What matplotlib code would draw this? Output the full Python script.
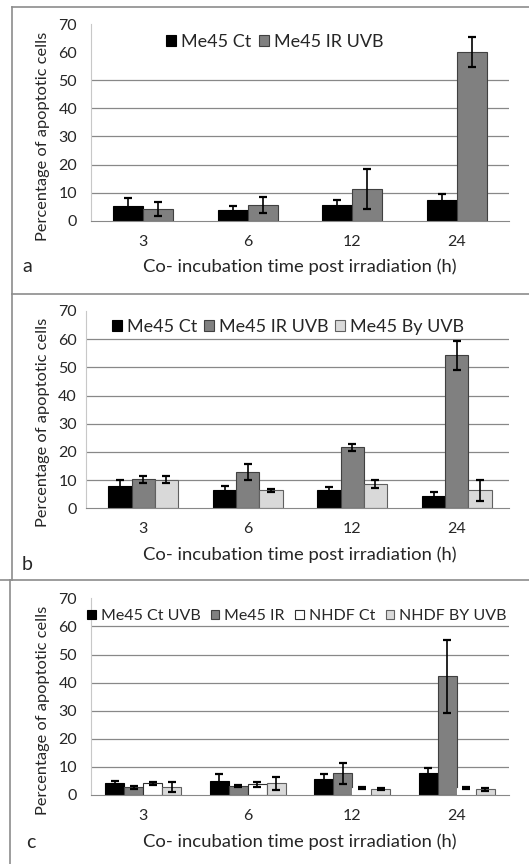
import numpy as np
import matplotlib
matplotlib.use("Agg")
from matplotlib import pyplot as plt
from matplotlib.lines import Line2D

plt.rcParams['font.family'] = ['Lato', 'DejaVu Sans']

times = ["3", "6", "12", "24"]

# panel a
a_ct = [5.3, 3.8, 5.6, 7.4]
a_ct_err = [2.7, 1.5, 1.7, 2.1]
a_ir = [4.2, 5.6, 11.3, 60.0]
a_ir_err = [2.6, 2.9, 7.0, 5.4]

# panel b
b_ct = [7.9, 6.4, 6.4, 4.3]
b_ct_err = [2.3, 1.6, 1.1, 1.6]
b_ir = [10.3, 12.9, 21.6, 54.3]
b_ir_err = [1.3, 2.8, 1.3, 5.2]
b_by = [10.2, 6.4, 8.5, 6.4]
b_by_err = [1.3, 0.6, 1.4, 3.7]

# panel c
c_ct = [4.2, 4.9, 5.7, 7.8]
c_ct_err = [0.9, 2.5, 1.7, 1.7]
c_ir = [2.8, 3.2, 7.7, 42.3]
c_ir_err = [0.5, 0.3, 3.8, 13.0]
c_nct = [4.2, 3.8, 2.4, 2.4]
c_nct_err = [0.5, 1.0, 0.3, 0.3]
c_nby = [2.8, 4.2, 2.1, 2.1]
c_nby_err = [1.7, 2.3, 0.3, 0.5]

W, H = 529, 864
fig = plt.figure(figsize=(W / 100, H / 100), dpi=100)

txt = '#262626'
grid_c = '#888888'


def px(x0, y0, x1, y1):
    # pixel box (top-left origin) -> figure fraction rect
    return [x0 / W, 1 - y1 / H, (x1 - x0) / W, (y1 - y0) / H]


def panel(rect, series, labels, colors, edges, grid_levels, xlim, ypad, leg_xy, colsp, legsize=13):
    ax = fig.add_axes(rect)
    n = len(series)
    x = np.arange(len(times))
    w = 1 / (n + 1.5)
    for i, (vals, errs) in enumerate(series):
        pos = x + (i - (n - 1) / 2) * w
        ax.bar(pos, vals, w, color=colors[i], edgecolor=edges[i], linewidth=0.8,
               label=labels[i], zorder=3)
        ax.errorbar(pos, vals, yerr=errs, fmt='none', ecolor='black', elinewidth=1.2,
                    capsize=3, capthick=1.6, zorder=4)
    for g in grid_levels:
        ax.axhline(g, color=grid_c, lw=0.9, zorder=1)
    ax.set_ylim(0, 70)
    ax.set_xlim(*xlim)
    ax.set_yticks(range(0, 71, 10))
    ax.set_xticks(x)
    ax.set_xticklabels(times)
    for s in ['top', 'right']:
        ax.spines[s].set_visible(False)
    ax.spines['left'].set_color('#c8c8c8')
    ax.spines['bottom'].set_color(grid_c)
    ax.spines['bottom'].set_zorder(5)
    ax.tick_params(length=0, labelsize=11.5, colors=txt)
    ax.tick_params(axis='y', pad=ypad)
    ax.tick_params(axis='x', pad=10)
    ax.legend(loc='center left', bbox_to_anchor=(leg_xy[0] / W, 1 - leg_xy[1] / H),
              bbox_transform=fig.transFigure, ncol=n, frameon=False, fontsize=legsize,
              handlelength=0.55, handleheight=0.55, handletextpad=0.3,
              columnspacing=colsp, borderpad=0, borderaxespad=0, labelcolor=txt)
    return ax


panel(px(91, 24.1, 509, 220.7),
      [(a_ct, a_ct_err), (a_ir, a_ir_err)],
      ["Me45 Ct", "Me45 IR UVB"],
      ['black', '#808080'], ['black', '#404040'],
      [10, 20, 30, 40, 50], (-0.5, 3.5), 10, (166, 42), 0.4)

panel(px(86, 310.9, 509, 508.3),
      [(b_ct, b_ct_err), (b_ir, b_ir_err), (b_by, b_by_err)],
      ["Me45 Ct", "Me45 IR UVB", "Me45 By UVB"],
      ['black', '#808080', '#d9d9d9'], ['black', '#404040', '#606060'],
      [10, 20, 30, 40, 50, 60], (-0.548, 3.5), 6.5, (112, 327), 0.35)

axc = panel(px(91, 598.3, 509, 795),
            [(c_ct, c_ct_err), (c_ir, c_ir_err), (c_nct, c_nct_err), (c_nby, c_nby_err)],
            ["Me45 Ct UVB", "Me45 IR", "NHDF Ct", "NHDF BY UVB"],
            ['black', '#808080', 'white', '#d9d9d9'], ['black', '#404040', '#303030', '#606060'],
            [10, 20, 30, 40, 50, 60], (-0.5, 3.5), 10, (87, 616), 0.65, legsize=11.5)
# NHDF Ct bars at 12 h and 24 h show no outline
for p in axc.containers[2 * 2][2:]:
    p.set_edgecolor('white')

ylab = "Percentage of apoptotic cells"
xlab = "Co- incubation time post irradiation (h)"
for yc, yx, ltr, ly, lx in [(136, 267, "a", 267, 27), (422, 555, "b", 565, 27), (710, 842, "c", 842, 31)]:
    fig.text(43 / W, 1 - yc / H, ylab, rotation=90, ha='center', va='center', fontsize=11.8, color=txt)
    fig.text(300 / W, 1 - yx / H, xlab, ha='center', va='center', fontsize=13.3, color=txt)
    fig.text(lx / W, 1 - ly / H, ltr, ha='center', va='center', fontsize=14, color=txt)

# panel frames
fc = '#8c8c8c'
for xs, ys in [([12, 529], [7, 7]), ([12, 12], [7, 580]), ([12, 529], [294, 294]),
               ([0, 529], [580, 580]), ([10, 10], [580, 864])]:
    fig.add_artist(Line2D([v / W for v in xs], [1 - v / H for v in ys], color=fc, lw=1.2))

fig.savefig("out.png", dpi=100)
